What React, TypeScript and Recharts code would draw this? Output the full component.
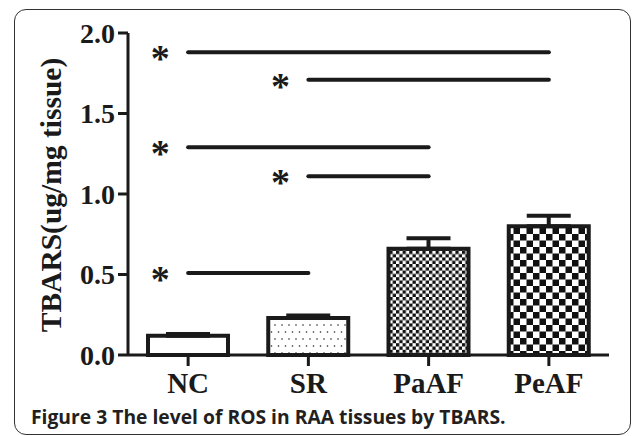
import { BarChart, Bar, XAxis, YAxis, ErrorBar, ReferenceLine, Cell } from 'recharts';

const groups = ['NC', 'SR', 'PaAF', 'PeAF'];
const means = [0.12, 0.23, 0.66, 0.8];
const sems = [0.01, 0.015, 0.065, 0.065];
const yTicks = [0, 0.5, 1.0, 1.5, 2.0];

// significance bars: from group, to group, height
const sigFrom = ['NC', 'SR', 'NC', 'SR', 'NC'];
const sigTo = ['PeAF', 'PeAF', 'PaAF', 'PaAF', 'SR'];
const sigY = [1.88, 1.71, 1.29, 1.11, 0.51];

const FILLS = ['#ffffff', 'url(#dots)', 'url(#fineCheck)', 'url(#bigCheck)'];
const INK = '#1a1a1a';
const SERIF = '"Liberation Serif", "Times New Roman", serif';

const rows = groups.map((g, i) => ({ group: g, value: means[i], err: [0, sems[i]] }));

const Star = (props: any) => {
  const vb = props.viewBox || {};
  return (
    <text x={vb.x - 28} y={vb.y + 19} textAnchor="middle" fontFamily={SERIF} fontWeight="bold" fontSize={38} fill={INK}>
      *
    </text>
  );
};

const YLabel = () => (
  <text
    x={0}
    y={0}
    transform="translate(51,195) rotate(-90)"
    textAnchor="middle"
    dominantBaseline="central"
    fontFamily={SERIF}
    fontWeight="bold"
    fontSize={29.5}
    fill={INK}
  >
    TBARS(ug/mg tissue)
  </text>
);

export default function App() {
  return (
    <div style={{ position: 'absolute', left: 0, top: 0, width: 633, height: 436, background: '#fff', overflow: 'hidden' }}>
      <div
        style={{
          position: 'absolute',
          left: 14,
          top: 9,
          width: 615,
          height: 424,
          border: '1.5px solid #333',
          borderRadius: 12,
        }}
      />
      <div style={{ position: 'absolute', left: 0, top: 0 }}>
        <BarChart width={633} height={436} data={rows} margin={{ top: 33, right: 24, bottom: 0, left: 0 }} barSize={80}>
          <defs>
            <pattern id="dots" width="7" height="14" patternUnits="userSpaceOnUse">
              <rect width="7" height="14" fill="#fff" />
              <circle cx="2" cy="3" r="0.8" fill="#222" />
              <circle cx="5.5" cy="10" r="0.8" fill="#222" />
            </pattern>
            <pattern id="fineCheck" width="6.6" height="6.6" patternUnits="userSpaceOnUse">
              <rect width="6.6" height="6.6" fill="#fff" />
              <rect width="3.3" height="3.3" fill="#111" />
              <rect x="3.3" y="3.3" width="3.3" height="3.3" fill="#111" />
            </pattern>
            <pattern id="bigCheck" width="13" height="13" patternUnits="userSpaceOnUse">
              <rect width="13" height="13" fill="#fff" />
              <rect width="6.5" height="6.5" fill="#111" />
              <rect x="6.5" y="6.5" width="6.5" height="6.5" fill="#111" />
            </pattern>
          </defs>
          <XAxis
            dataKey="group"
            height={81}
            axisLine={{ stroke: INK, strokeWidth: 3 }}
            tickLine={{ stroke: INK, strokeWidth: 3 }}
            tickSize={11}
            tickMargin={6}
            tick={{ fontFamily: SERIF, fontWeight: 'bold', fontSize: 29, fill: INK }}
          />
          <YAxis
            width={128}
            domain={[0, 2]}
            ticks={yTicks}
            interval={0}
            tickFormatter={(v: number) => v.toFixed(1)}
            axisLine={{ stroke: INK, strokeWidth: 3 }}
            tickLine={{ stroke: INK, strokeWidth: 3 }}
            tickSize={10}
            tickMargin={3}
            tick={{ fontFamily: SERIF, fontWeight: 'bold', fontSize: 28, fill: INK }}
            label={<YLabel />}
          />
          <Bar dataKey="value" stroke={INK} strokeWidth={4} isAnimationActive={false}>
            {rows.map((r, i) => (
              <Cell key={r.group} fill={FILLS[i]} />
            ))}
            <ErrorBar dataKey="err" width={22} stroke={INK} strokeWidth={4} direction="y" />
          </Bar>
          {sigY.map((y, i) => (
            <ReferenceLine
              key={i}
              segment={[
                { x: sigFrom[i], y },
                { x: sigTo[i], y },
              ]}
              stroke={INK}
              strokeWidth={4}
              strokeLinecap="round"
              label={<Star />}
              ifOverflow="visible"
            />
          ))}
        </BarChart>
      </div>
      <div
        style={{
          position: 'absolute',
          left: 31,
          top: 404,
          fontFamily: '"Open Sans", "Noto Sans", sans-serif',
          fontWeight: 'bold',
          fontSize: 19.3,
          color: '#231f20',
          whiteSpace: 'nowrap',
          lineHeight: '26px',
        }}
      >
        Figure 3 The level of ROS in RAA tissues by TBARS.
      </div>
    </div>
  );
}
